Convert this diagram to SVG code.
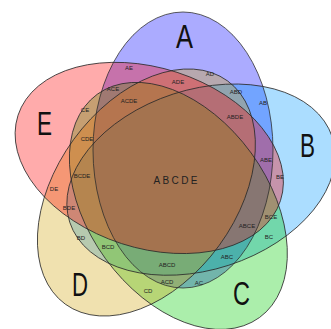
<svg xmlns="http://www.w3.org/2000/svg" xmlns:xlink="http://www.w3.org/1999/xlink" width="331" height="329" viewBox="0 0 331 329">
<style>
.set{fill-opacity:0.33;stroke:none}
.outline{fill:none;stroke:#2a2a2a;stroke-width:0.9;stroke-opacity:0.85}
.big{font-family:"Liberation Sans",Arial,sans-serif;font-size:33px;fill:#111;text-anchor:middle}
.lbl{font-family:"Liberation Sans",Arial,sans-serif;font-size:6px;fill:#222;text-anchor:middle}
.lbl-c{font-family:"Liberation Sans",Arial,sans-serif;font-size:10px;fill:#222;text-anchor:middle}
</style>
<defs>
<ellipse id="el" cx="183" cy="150" rx="90" ry="138"/>
</defs>
<rect width="331" height="329" fill="#ffffff"/>
<g id="set-A"><use xlink:href="#el" class="set" fill="#0000ff"/><text class="big" x="184.5" y="48" textLength="17" lengthAdjust="spacingAndGlyphs">A</text></g>
<g id="set-B"><use xlink:href="#el" class="set" fill="#0099ff" transform="rotate(72 171.6 177.2)"/><text class="big" x="307.5" y="157" textLength="15" lengthAdjust="spacingAndGlyphs">B</text></g>
<g id="set-C"><use xlink:href="#el" class="set" fill="#00cc00" transform="rotate(144 171.6 177.2)"/><text class="big" x="241.5" y="305" textLength="17" lengthAdjust="spacingAndGlyphs">C</text></g>
<g id="set-D"><use xlink:href="#el" class="set" fill="#d1a40c" transform="rotate(216 171.6 177.2)"/><text class="big" x="80" y="296" textLength="16" lengthAdjust="spacingAndGlyphs">D</text></g>
<g id="set-E"><use xlink:href="#el" class="set" fill="#ff0000" transform="rotate(288 171.6 177.2)"/><text class="big" x="44.5" y="135" textLength="15" lengthAdjust="spacingAndGlyphs">E</text></g>
<g id="outlines">
<use xlink:href="#el" class="outline"/>
<use xlink:href="#el" class="outline" transform="rotate(72 171.6 177.2)"/>
<use xlink:href="#el" class="outline" transform="rotate(144 171.6 177.2)"/>
<use xlink:href="#el" class="outline" transform="rotate(216 171.6 177.2)"/>
<use xlink:href="#el" class="outline" transform="rotate(288 171.6 177.2)"/>
</g>
<g id="region-labels">
<text class="lbl" x="129" y="70">AE</text>
<text class="lbl" x="210" y="76">AD</text>
<text class="lbl" x="178" y="84">ADE</text>
<text class="lbl" x="113" y="91">ACE</text>
<text class="lbl" x="236" y="94">ABD</text>
<text class="lbl" x="263" y="105">AB</text>
<text class="lbl" x="129" y="103">ACDE</text>
<text class="lbl" x="235" y="119">ABDE</text>
<text class="lbl" x="85" y="112">CE</text>
<text class="lbl" x="87" y="141">CDE</text>
<text class="lbl" x="266" y="162">ABE</text>
<text class="lbl" x="82" y="178">BCDE</text>
<text class="lbl" x="280" y="179">BE</text>
<text class="lbl" x="54" y="191">DE</text>
<text class="lbl" x="69" y="210">BDE</text>
<text class="lbl" x="271" y="219">BCE</text>
<text class="lbl" x="247" y="228">ABCE</text>
<text class="lbl" x="81" y="240">BD</text>
<text class="lbl" x="108" y="249">BCD</text>
<text class="lbl" x="269" y="239">BC</text>
<text class="lbl" x="167" y="267">ABCD</text>
<text class="lbl" x="227" y="259">ABC</text>
<text class="lbl" x="167" y="284">ACD</text>
<text class="lbl" x="199" y="285">AC</text>
<text class="lbl" x="148" y="293">CD</text>
<text class="lbl-c" x="175.5" y="184" textLength="44" lengthAdjust="spacing">ABCDE</text>
</g>
</svg>
